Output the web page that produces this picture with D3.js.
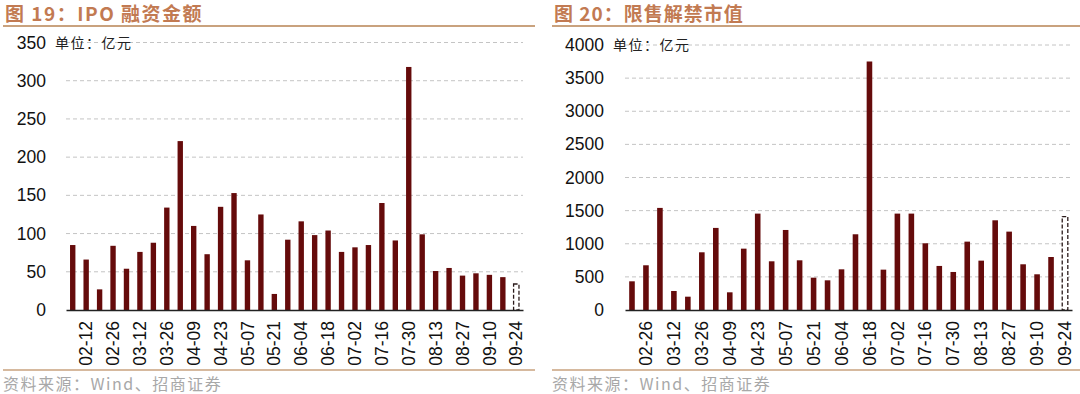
<!DOCTYPE html>
<html>
<head>
<meta charset="utf-8">
<script src="https://cdn.jsdelivr.net/npm/d3@7"></script>
<style>
  body { margin: 0; background: #fff; }
  svg { display: block; }
</style>
</head>
<body>
<script>
// Data: left panel, IPO amount (亿元), weekly
const ipoWeeks = ["02-05","02-12","02-19","02-26","03-05","03-12","03-19","03-26","04-02","04-09",
  "04-16","04-23","04-30","05-07","05-14","05-21","05-28","06-04","06-11","06-18",
  "06-25","07-02","07-09","07-16","07-23","07-30","08-06","08-13","08-20","08-27",
  "09-03","09-10","09-17","09-24"];
const ipoValues = [85, 66, 27, 84, 54, 76, 88, 134, 221, 110,
  73, 135, 153, 65, 125, 21, 92, 116, 98, 104,
  76, 82, 85, 140, 91, 318, 99, 51, 55, 45,
  48, 46, 43, 34];
const ipoTicks = [0, 50, 100, 150, 200, 250, 300, 350];

// Data: right panel, unlocked market value (亿元), weekly
const unlockWeeks = ["02-19","02-26","03-05","03-12","03-19","03-26","04-02","04-09","04-16","04-23",
  "04-30","05-07","05-14","05-21","05-28","06-04","06-11","06-18","06-25","07-02",
  "07-09","07-16","07-23","07-30","08-06","08-13","08-20","08-27","09-03","09-10",
  "09-17","09-24"];
const unlockValues = [433, 675, 1541, 287, 201, 871, 1239, 267, 926, 1455,
  735, 1208, 750, 488, 448, 614, 1143, 3751, 609, 1455,
  1455, 1007, 665, 574, 1032, 745, 1354, 1183, 690, 539,
  800, 1410];
const unlockTicks = [0, 500, 1000, 1500, 2000, 2500, 3000, 3500, 4000];

const W = 1080, H = 394;
const barColor = "#650b0b";
const titleColor = "#c27a52";
const ruleColor = "#c9a27e";
const numFont = "'Liberation Sans', Arial, sans-serif";
const cjkFont = "'Noto Sans CJK SC', sans-serif";

const svg = d3.select("body").append("svg")
    .attr("width", W)
    .attr("height", H);

function drawPanel(opt) {
    const g = svg.append("g");

    // title + rule
    g.append("text")
        .attr("x", opt.left + 2)
        .attr("y", 21)
        .attr("fill", titleColor)
        .style("font-family", cjkFont)
        .style("font-weight", "bold")
        .style("font-size", "19px")
        .style("letter-spacing", opt.titleSpacing)
        .text(opt.title);
    g.append("line")
        .attr("x1", opt.left).attr("x2", opt.right)
        .attr("y1", 26).attr("y2", 26)
        .attr("stroke", ruleColor).attr("stroke-width", 2);

    // scales
    const x = d3.scaleBand()
        .domain(opt.cats)
        .range([opt.x0, opt.x1])
        .paddingInner(0.6)
        .paddingOuter(0.3);
    const y = d3.scaleLinear()
        .domain([0, opt.max])
        .range([310, opt.yTop]);

    // gridlines
    g.selectAll(".grid")
        .data(opt.ticks.filter(d => d > 0))
        .enter().append("line")
        .attr("x1", opt.x0).attr("x2", opt.x1)
        .attr("y1", d => y(d)).attr("y2", d => y(d))
        .attr("stroke", "#c4c4c4")
        .attr("stroke-dasharray", "4,3");

    // y axis
    const ya = g.append("g")
        .attr("transform", `translate(${opt.x0},0)`)
        .call(d3.axisLeft(y).tickValues(opt.ticks).tickFormat(d3.format("d"))
            .tickSize(0).tickPadding(opt.pad));
    ya.select(".domain").remove();
    ya.selectAll("text")
        .style("font-family", numFont)
        .style("font-size", "17.5px")
        .attr("fill", "#111");

    // unit label
    g.append("text")
        .attr("x", opt.unitX)
        .attr("y", y(opt.max) + 5)
        .attr("fill", "#222")
        .style("font-family", cjkFont)
        .style("font-size", "14px")
        .style("letter-spacing", "1.5px")
        .text("单位：亿元");

    // bars (last one is a dashed estimate)
    const n = opt.vals.length;
    g.selectAll(".bar")
        .data(opt.vals.map((v, i) => ({ k: opt.cats[i], v, last: i === n - 1 })))
        .enter().append("rect")
        .attr("x", d => x(d.k))
        .attr("y", d => y(d.v))
        .attr("width", x.bandwidth())
        .attr("height", d => 310 - y(d.v))
        .attr("fill", d => d.last ? "#fff" : barColor)
        .attr("stroke", d => d.last ? "#2a1a1a" : "none")
        .attr("stroke-width", 1.3)
        .attr("stroke-dasharray", d => d.last ? "4,2" : null);

    // x axis
    const xa = g.append("g")
        .attr("transform", "translate(0,310)")
        .call(d3.axisBottom(x)
            .tickValues(opt.cats.filter((d, i) => i % 2 === 1))
            .tickSize(0)
            .tickPadding(0));
    xa.select(".domain")
        .attr("stroke", "#222")
        .attr("stroke-width", 1.5);
    xa.selectAll("text")
        .style("font-family", numFont)
        .style("font-size", "17.5px")
        .attr("fill", "#111")
        .attr("text-anchor", "end")
        .attr("dy", "0.35em")
        .attr("transform", "translate(0,11) rotate(-90)")
        .attr("x", 0).attr("y", 0);

    // footer rule + source
    g.append("line")
        .attr("x1", opt.left).attr("x2", opt.right)
        .attr("y1", 370).attr("y2", 370)
        .attr("stroke", ruleColor).attr("stroke-width", 1.5);
    g.append("text")
        .attr("x", opt.left)
        .attr("y", 390)
        .attr("fill", "#a8a8a8")
        .style("font-family", cjkFont)
        .style("font-size", "16px")
        .style("letter-spacing", "1.5px")
        .text("资料来源：Wind、招商证券");
}

drawPanel({
    title: "图 19：IPO 融资金额",
    titleSpacing: "1.5px",
    left: 3, right: 535,
    x0: 66, x1: 523, yTop: 42.5,
    cats: ipoWeeks, vals: ipoValues,
    ticks: ipoTicks, max: 350,
    pad: 20, unitX: 55
});

drawPanel({
    title: "图 20：限售解禁市值",
    titleSpacing: "1px",
    left: 552, right: 1080,
    x0: 625, x1: 1072, yTop: 45,
    cats: unlockWeeks, vals: unlockValues,
    ticks: unlockTicks, max: 4000,
    pad: 21, unitX: 613
});
</script>
</body>
</html>
